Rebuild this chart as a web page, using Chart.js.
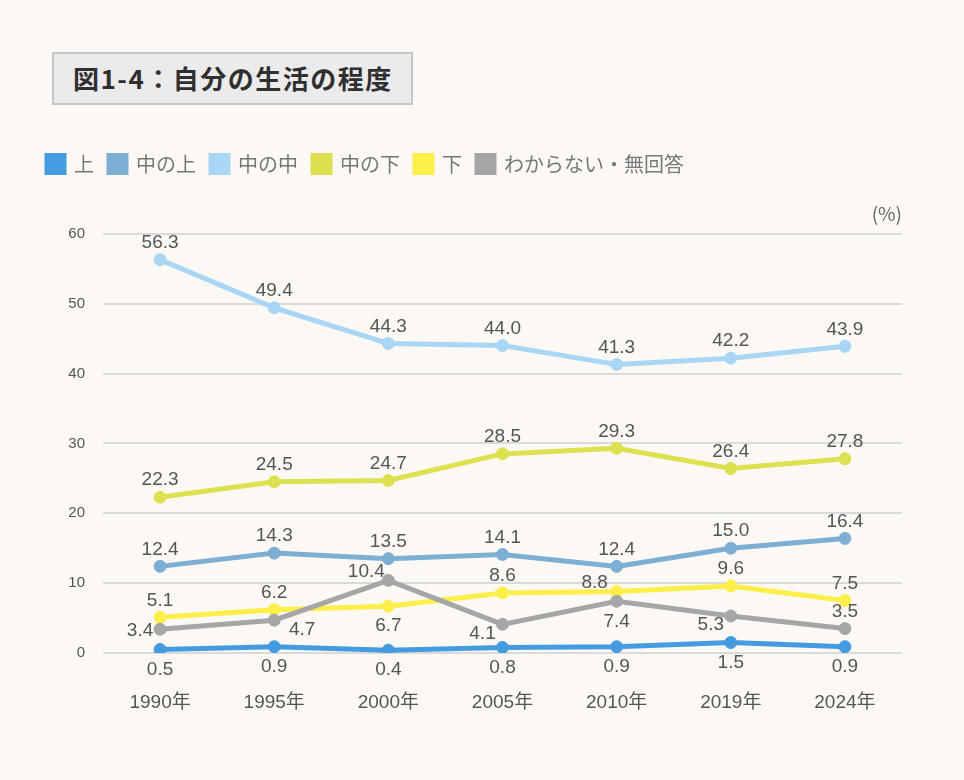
<!DOCTYPE html>
<html lang="ja">
<head>
<meta charset="utf-8">
<title>図1-4：自分の生活の程度</title>
<script src="https://cdn.jsdelivr.net/npm/chart.js@4.4.1/dist/chart.umd.min.js"></script>
<style>
  html, body { margin: 0; padding: 0; background: #fcf9f5; }
  #wrap { position: relative; width: 964px; height: 780px; }
  #title {
    position: absolute; left: 52px; top: 52px; box-sizing: border-box;
    width: 361px; height: 53px; padding-left: 19px;
    background: #ebebeb; border: 2px solid #c6c6c6;
    font: bold 26px "Noto Sans CJK JP", sans-serif; color: #2f2f2f;
    line-height: 48px; letter-spacing: 1.5px; white-space: nowrap;
  }
  #chart { position: absolute; left: 0; top: 0; }
</style>
</head>
<body>
<div id="wrap">
  <canvas id="chart" width="964" height="780"></canvas>
  <div id="title">図1-4：自分の生活の程度</div>
</div>
<script>
// data
const years = ['1990年', '1995年', '2000年', '2005年', '2010年', '2019年', '2024年'];
const seriesNames = ['上', '中の上', '中の中', '中の下', '下', 'わからない・無回答'];
const jou = [0.5, 0.9, 0.4, 0.8, 0.9, 1.5, 0.9];
const chuNoJou = [12.4, 14.3, 13.5, 14.1, 12.4, 15.0, 16.4];
const chuNoChu = [56.3, 49.4, 44.3, 44.0, 41.3, 42.2, 43.9];
const chuNoGe = [22.3, 24.5, 24.7, 28.5, 29.3, 26.4, 27.8];
const ge = [5.1, 6.2, 6.7, 8.6, 8.8, 9.6, 7.5];
const wakaranai = [3.4, 4.7, 10.4, 4.1, 7.4, 5.3, 3.5];
const yTicks = [0, 10, 20, 30, 40, 50, 60];

const colors = ['#449be0', '#7daed3', '#a9d6f4', '#dde04f', '#fdef4a', '#a6a6a6'];

// where each value label sits relative to its point
const labelSpots = [
  ['below', 'below', 'below', 'below', 'below', 'below', 'below'],
  ['above', 'above', 'above', 'above', 'above', 'above', 'above'],
  ['above', 'above', 'above', 'above', 'above', 'above', 'above'],
  ['above', 'above', 'above', 'above', 'above', 'above', 'above'],
  ['above', 'above', 'below', 'above', 'upperLeft', 'above', 'above'],
  ['left', 'lowerRight', 'upperLeft', 'lowerLeft', 'below', 'lowerLeft', 'above']
];
const spotOffsets = {
  above: [0, -17], below: [0, 20], left: [-20, 2], lowerRight: [28, 10],
  upperLeft: [-22, -9], lowerLeft: [-20, 9]
};

const numFont = '"Liberation Sans", "Noto Sans CJK JP", sans-serif';

const valueLabels = {
  id: 'valueLabels',
  afterDatasetsDraw(chart) {
    const ctx = chart.ctx;
    ctx.save();
    ctx.font = '19px ' + numFont;
    ctx.fillStyle = '#555555';
    ctx.textAlign = 'center';
    ctx.textBaseline = 'middle';
    chart.data.datasets.forEach(function (ds, i) {
      const meta = chart.getDatasetMeta(i);
      meta.data.forEach(function (pt, j) {
        const off = spotOffsets[labelSpots[i][j]];
        ctx.fillText(ds.data[j].toFixed(1), pt.x + off[0], pt.y + off[1]);
      });
    });
    ctx.restore();
  }
};

const allSeries = [jou, chuNoJou, chuNoChu, chuNoGe, ge, wakaranai];
const datasets = allSeries.map(function (vals, i) {
  return {
    label: seriesNames[i],
    data: vals,
    borderColor: colors[i],
    backgroundColor: colors[i],
    pointBackgroundColor: colors[i],
    pointBorderColor: colors[i],
    borderWidth: 5,
    pointRadius: 6,
    pointBorderWidth: 1,
    tension: 0,
    order: allSeries.length - i
  };
});

const ctx = document.getElementById('chart').getContext('2d');
const chart = new Chart(ctx, {
  type: 'line',
  data: { labels: years, datasets: datasets },
  options: {
    responsive: false,
    animation: false,
    layout: { padding: { top: 139, left: 32, right: 62, bottom: 0 } },
    plugins: {
      tooltip: { enabled: false },
      legend: {
        position: 'top',
        align: 'start',
        labels: {
          boxWidth: 17,
          boxHeight: 17,
          padding: 15,
          color: '#777777',
          font: { family: '"Noto Sans CJK JP", sans-serif', size: 20 },
          sort: function (a, b) { return a.datasetIndex - b.datasetIndex; }
        }
      },
      title: {
        display: true,
        text: '(%)',
        align: 'end',
        position: 'top',
        weight: 500,
        fullSize: false,
        color: '#666666',
        font: { family: '"Noto Sans CJK JP", sans-serif', size: 19, weight: 'normal' },
        padding: { top: 18, bottom: 9 }
      }
    },
    scales: {
      x: {
        offset: true,
        grid: { display: false },
        border: { display: false },
        ticks: {
          padding: 30,
          color: '#555555',
          font: { family: numFont, size: 19 }
        },
        afterFit: function (scale) { scale.height = 127; }
      },
      y: {
        min: 0,
        max: 60,
        afterBuildTicks: function (scale) {
          scale.ticks = yTicks.map(function (v) { return { value: v }; });
        },
        grid: { color: '#dadada', lineWidth: 2, drawTicks: false },
        border: { display: false },
        ticks: {
          padding: 18,
          color: '#555555',
          font: { family: numFont, size: 15 }
        },
        afterFit: function (scale) { scale.width = 71; }
      }
    }
  },
  plugins: [valueLabels]
});
</script>
</body>
</html>
